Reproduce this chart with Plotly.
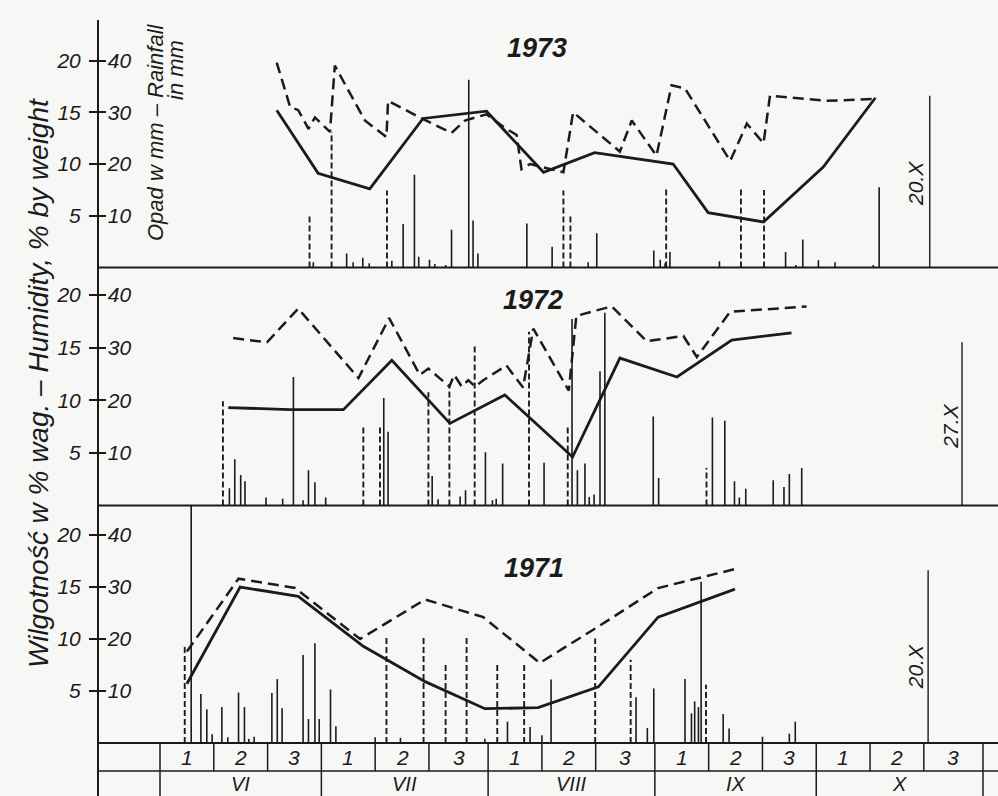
import plotly.graph_objects as go

# ---------------- DATA ----------------
# x values are days counted from 1 June (0 = start of 1 June)
month_bounds = [0, 30, 61, 92, 122, 153]
month_labels = ["VI", "VII", "VIII", "IX", "X"]
decade_bounds = [0, 10, 20, 30, 40, 50, 61, 71, 81, 92, 102, 112, 122, 132, 142, 153]
decade_labels = ["1", "2", "3"] * 5

hum_ticks = [5, 10, 15, 20]
rain_ticks = [10, 20, 30, 40]

# 1973
d73_solid = [21.7, 29.4, 39.0, 48.9, 60.7, 71.3, 80.8, 95.4, 101.9, 112.2, 123.3, 133.0]
h73_solid = [15.2, 9.1, 7.6, 14.4, 15.1, 9.2, 11.1, 10.0, 5.3, 4.4, 9.7, 16.4]
d73_dash = [21.7, 24.2, 25.7, 27.6, 28.8, 31.6, 32.5, 38.1, 42.1, 42.4, 48.3, 54.2, 56.7,
            60.7, 64.4, 66.3, 67.2, 68.8, 75.0, 76.8, 85.5, 87.7, 92.3, 95.1, 97.6, 106.0,
            109.1, 112.2, 113.4, 123.9, 133.0]
h73_dash = [19.8, 15.5, 15.2, 13.4, 14.5, 13.1, 19.5, 14.2, 12.6, 16.1, 14.5, 13.0, 14.2,
            14.8, 13.4, 12.8, 9.5, 10.0, 9.2, 15.0, 11.2, 14.2, 10.8, 17.6, 17.3, 10.3,
            13.9, 12.0, 16.6, 16.1, 16.3]
r73_days = [28.5, 34.7, 35.9, 37.7, 38.9, 43.1, 45.2, 47.3, 48.1, 50.1, 51.1, 53.1, 54.2,
            57.4, 58.2, 59.1, 68.2, 72.9, 79.6, 81.2, 91.8, 93.0, 93.9, 94.8, 104.0, 116.3,
            118.2, 119.5, 122.4, 125.5, 132.6, 133.7]
r73_mm = [1.0, 2.7, 1.0, 1.9, 0.8, 1.3, 8.4, 17.9, 2.1, 1.5, 0.7, 0.5, 7.3,
          36.3, 9.1, 2.7, 8.5, 4.0, 1.0, 6.6, 3.3, 1.5, 0.8, 3.0, 1.2, 3.0,
          0.5, 5.4, 1.4, 1.0, 0.5, 15.5]
i73_days = [27.8, 31.9, 42.2, 75.0, 76.3, 94.1, 108.0, 112.3]
i73_mm = [10.4, 26.2, 14.9, 14.9, 10.4, 15.2, 15.2, 15.0]

# 1972
d72_solid = [12.7, 24.2, 34.1, 43.1, 53.9, 64.1, 76.7, 85.5, 96.1, 106.3, 117.4]
h72_solid = [9.3, 9.1, 9.1, 13.8, 7.8, 10.5, 4.6, 14.0, 12.2, 15.7, 16.4]
d72_dash = [13.6, 19.9, 25.7, 36.9, 42.6, 48.3, 49.9, 53.8, 54.7, 56.1, 57.3, 58.6, 60.1,
            64.4, 67.5, 69.4, 76.0, 77.4, 82.4, 84.0, 90.5, 97.3, 99.8, 106.0, 120.2]
h72_dash = [15.9, 15.5, 18.7, 12.1, 17.8, 12.4, 13.0, 11.3, 12.4, 11.3, 11.9, 11.3, 11.9,
            13.3, 11.2, 16.8, 10.9, 18.0, 18.7, 18.9, 15.6, 16.1, 14.1, 18.4, 18.9]
r72_days = [12.9, 13.9, 15.0, 15.8, 19.7, 22.8, 24.8, 26.6, 27.6, 28.8, 30.8, 41.6, 42.4,
            50.6, 51.7, 55.8, 56.8, 60.5, 61.8, 62.5, 63.7, 71.4, 76.6, 77.6, 79.0, 79.8,
            80.7, 81.8, 82.7, 91.7, 92.7, 102.7, 105.0, 106.8, 107.7, 108.9, 114.0, 116.0,
            117.0, 119.3]
r72_mm = [3.3, 8.8, 5.8, 4.6, 1.5, 1.3, 24.4, 1.0, 6.7, 4.4, 1.5, 20.4, 14.0,
          5.6, 1.2, 1.7, 2.9, 10.1, 1.0, 1.3, 8.0, 8.1, 35.4, 6.7, 8.0, 1.6,
          2.1, 25.5, 36.6, 16.9, 5.2, 16.7, 16.1, 4.6, 1.5, 3.2, 4.8, 3.5,
          6.0, 7.1]
i72_days = [11.7, 37.8, 40.9, 49.9, 53.8, 58.5, 68.6, 75.8, 101.6]
i72_mm = [19.8, 15.3, 15.0, 21.5, 22.8, 30.2, 33.0, 15.0, 7.1]

# 1971
d71_solid = [5.0, 14.9, 25.7, 37.8, 49.3, 60.4, 70.3, 81.5, 92.6, 100.7, 106.9]
h71_solid = [5.7, 15.0, 14.1, 9.3, 5.9, 3.3, 3.4, 5.4, 12.1, 13.6, 14.8]
d71_dash = [5.0, 14.6, 25.1, 37.2, 49.3, 60.1, 70.6, 81.8, 92.6, 107.5]
h71_dash = [8.8, 15.8, 14.9, 10.0, 13.8, 12.1, 7.7, 11.3, 14.9, 16.8]
r71_days = [7.6, 8.7, 9.7, 11.5, 12.6, 14.6, 15.7, 16.5, 17.5, 20.8, 21.8, 22.7, 26.6,
            27.6, 28.8, 29.6, 31.7, 32.7, 40.0, 44.7, 60.4, 64.6, 68.8, 71.0, 72.7, 88.5,
            90.6, 91.8, 97.6, 98.8, 99.4, 100.1, 100.6, 104.7, 105.8, 112.0, 117.0, 118.1]
r71_mm = [9.4, 6.5, 1.7, 6.9, 1.1, 9.7, 6.9, 0.8, 1.2, 9.6, 12.3, 6.7, 16.9,
          4.6, 19.2, 4.6, 10.3, 3.2, 1.1, 1.0, 0.8, 4.1, 3.1, 1.5, 12.2, 8.8,
          2.9, 10.5, 12.3, 5.7, 8.0, 6.9, 31.0, 5.6, 2.8, 1.2, 1.8, 4.1]
i71_days = [4.6, 42.1, 49.0, 53.1, 57.0, 62.7, 67.7, 80.9, 87.5, 101.5]
i71_mm = [18.5, 20.4, 20.6, 15.5, 20.6, 15.3, 15.3, 20.1, 16.0, 11.2]

years = ["1973", "1972", "1971"]
end_labels = ["20.X", "27.X", "20.X"]
end_days = [143.1, 149.1, 142.8]
end_tops = [16.6, 15.5, 16.6]          # humidity-scale units
start_line_1971 = 5.8

# ---------------- LAYOUT CONSTANTS ----------------
W, H = 998, 796
LEFT = 98
X0PX, PX_PER_DAY = 160.0, 5.379
xrange_ = [(LEFT - X0PX) / PX_PER_DAY, (W - X0PX) / PX_PER_DAY]
INK = "#1b1b1b"
BG = "#f7f7f5"
FONT = "Liberation Sans, Arial, sans-serif"

# pixel frames of the three panels: (top px, baseline px, px per % unit)
frames = [(20, 267.5, 10.35), (268, 505.5, 10.53), (506, 743, 10.4)]
year_pos = [(70.1, 21.2), (69.3, 19.5), (69.5, 16.8)]
end_label_pos = [(140.4, 8.1), (146.9, 7.5), (140.4, 7.3)]


def pf(py):
    return 1 - py / H


def stems(days, vals):
    xs, ys = [], []
    for d, v in zip(days, vals):
        xs += [d, d, None]
        ys += [0, v, None]
    return xs, ys


def ann(**kw):
    base = dict(showarrow=False, xanchor="center", yanchor="middle")
    base.update(kw)
    return base


data = [
    (d73_solid, h73_solid, d73_dash, h73_dash, r73_days, r73_mm, i73_days, i73_mm),
    (d72_solid, h72_solid, d72_dash, h72_dash, r72_days, r72_mm, i72_days, i72_mm),
    (d71_solid, h71_solid, d71_dash, h71_dash, r71_days, r71_mm, i71_days, i71_mm),
]

fig = go.Figure()
layout_axes = {}
shapes = []
annotations = []

for i, (ds, hs, dd, hd, rd, rm, idd, im) in enumerate(data):
    top_px, base_px, scale = frames[i]
    hmax = (base_px - top_px) / scale
    hy = "y" if i == 0 else f"y{i + 1}"
    ry = f"y{i + 4}"
    hkey = "yaxis" if i == 0 else f"yaxis{i + 1}"
    rkey = f"yaxis{i + 4}"
    tickfont = dict(family=FONT, size=21, color=INK, style="italic")
    layout_axes[hkey] = dict(
        domain=[pf(base_px), pf(top_px)], range=[0, hmax], anchor="x",
        tickvals=hum_ticks, ticks="outside", ticklen=8, tickwidth=1.5, tickcolor=INK,
        showgrid=False, zeroline=False, showline=False, tickfont=tickfont,
        ticklabelstandoff=4,
    )
    layout_axes[rkey] = dict(
        overlaying=hy, side="left", anchor="x", range=[0, 2 * hmax],
        tickvals=rain_ticks, ticks="inside", ticklen=8, tickwidth=1.5, tickcolor=INK,
        ticklabelposition="inside", showgrid=False, zeroline=False, showline=False,
        tickfont=tickfont, ticklabelstandoff=3,
    )

    # rainfall (solid) and irrigation (dashed) daily bars
    x, y = stems(rd, rm)
    fig.add_trace(go.Scatter(x=x, y=y, xaxis="x", yaxis=ry, mode="lines",
                             line=dict(color=INK, width=1.6), hoverinfo="skip",
                             showlegend=False))
    x, y = stems(idd, im)
    fig.add_trace(go.Scatter(x=x, y=y, xaxis="x", yaxis=ry, mode="lines",
                             line=dict(color=INK, width=1.9, dash="6px,3px"),
                             hoverinfo="skip", showlegend=False))
    # humidity lines
    fig.add_trace(go.Scatter(x=ds, y=hs, xaxis="x", yaxis=hy, mode="lines",
                             line=dict(color=INK, width=2.8), hoverinfo="skip",
                             showlegend=False))
    fig.add_trace(go.Scatter(x=dd, y=hd, xaxis="x", yaxis=hy, mode="lines",
                             line=dict(color=INK, width=2.5, dash="11px,6px"),
                             hoverinfo="skip", showlegend=False))
    # end-of-season marker
    fig.add_trace(go.Scatter(x=[end_days[i], end_days[i]], y=[0, end_tops[i]],
                             xaxis="x", yaxis=hy, mode="lines",
                             line=dict(color=INK, width=1.4), hoverinfo="skip",
                             showlegend=False))
    annotations.append(ann(x=end_label_pos[i][0], y=end_label_pos[i][1], xref="x", yref=hy,
                           text=end_labels[i], textangle=-90,
                           font=dict(family=FONT, size=21, color=INK, style="italic")))
    annotations.append(ann(x=year_pos[i][0], y=year_pos[i][1], xref="x", yref=hy,
                           text=f"<b>{years[i]}</b>",
                           font=dict(family=FONT, size=27, color=INK, style="italic")))
    # panel baseline
    shapes.append(dict(type="line", xref="paper", yref="paper", x0=0, x1=1,
                       y0=pf(base_px), y1=pf(base_px), line=dict(color=INK, width=2)))

# 1971 start line
shapes.append(dict(type="line", xref="x", yref="paper", x0=start_line_1971, x1=start_line_1971,
                   y0=pf(743), y1=pf(506), line=dict(color=INK, width=1.6)))
# vertical axis line through the whole figure
shapes.append(dict(type="line", xref="paper", yref="paper", x0=0, x1=0,
                   y0=0, y1=pf(20), line=dict(color=INK, width=2)))
# table: row separator
ROW_PX = 771
shapes.append(dict(type="line", xref="paper", yref="paper", x0=0, x1=1,
                   y0=pf(ROW_PX), y1=pf(ROW_PX), line=dict(color=INK, width=1.6)))
for b in decade_bounds:
    if b in month_bounds:
        continue
    shapes.append(dict(type="line", xref="x", yref="paper", x0=b, x1=b,
                       y0=pf(ROW_PX), y1=pf(743), line=dict(color=INK, width=1.5)))
for b in month_bounds:
    shapes.append(dict(type="line", xref="x", yref="paper", x0=b, x1=b,
                       y0=0, y1=pf(743), line=dict(color=INK, width=1.5)))
for k, lab in enumerate(decade_labels):
    c = (decade_bounds[k] + decade_bounds[k + 1]) / 2
    annotations.append(ann(x=c, y=pf(757.5), xref="x", yref="paper", text=lab,
                           font=dict(family=FONT, size=21, color=INK, style="italic")))
for k, lab in enumerate(month_labels):
    c = (month_bounds[k] + month_bounds[k + 1]) / 2
    annotations.append(ann(x=c, y=pf(784), xref="x", yref="paper", text=lab,
                           font=dict(family=FONT, size=20, color=INK, style="italic")))

# axis titles
PW = W - LEFT
annotations.append(ann(x=(38 - LEFT) / PW, y=pf(383), xref="paper", yref="paper",
                       text="Wilgotność w % wag. – Humidity, % by weight", textangle=-90,
                       font=dict(family=FONT, size=28, color=INK, style="italic")))
annotations.append(ann(x=(156 - LEFT) / PW, y=pf(132), xref="paper", yref="paper",
                       text="Opad w mm – Rainfall", textangle=-90,
                       font=dict(family=FONT, size=22, color=INK, style="italic")))
annotations.append(ann(x=(175 - LEFT) / PW, y=pf(70), xref="paper", yref="paper",
                       text="in mm", textangle=-90,
                       font=dict(family=FONT, size=22, color=INK, style="italic")))

fig.update_layout(
    width=W, height=H,
    margin=dict(l=LEFT, r=0, t=0, b=0),
    paper_bgcolor=BG, plot_bgcolor=BG,
    xaxis=dict(range=xrange_, domain=[0, 1], showgrid=False, zeroline=False,
               showticklabels=False, ticks="", showline=False),
    shapes=shapes, annotations=annotations,
    **layout_axes,
)

fig.write_html("out.html", config={"displayModeBar": False},
               post_script="document.body.style.margin='0';document.body.style.background='#f7f7f5';")
